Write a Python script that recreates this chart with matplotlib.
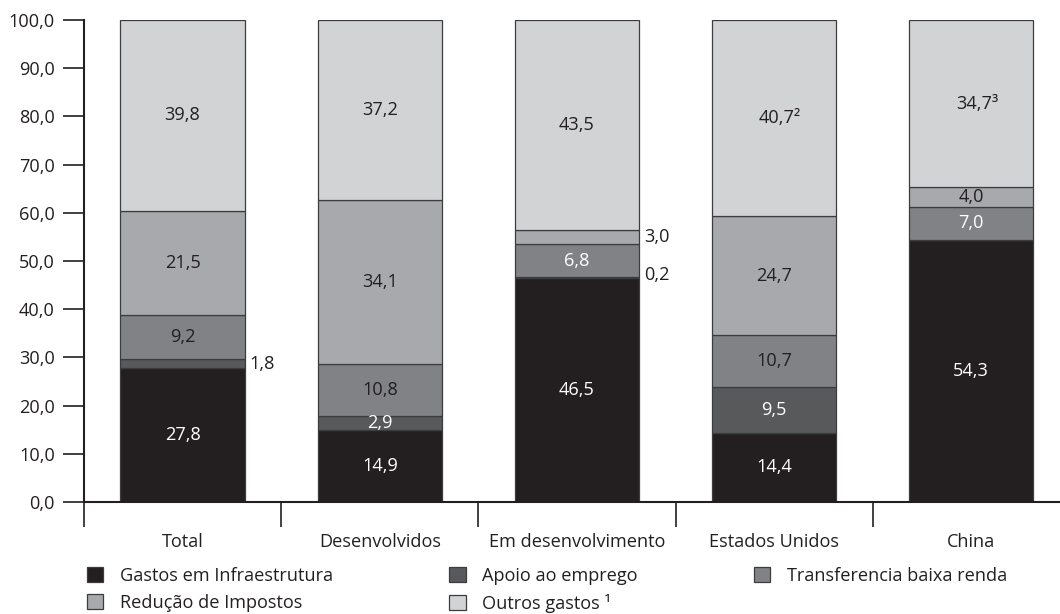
import numpy as np
import matplotlib
matplotlib.use("Agg")
import matplotlib.pyplot as plt
from matplotlib.ticker import FuncFormatter, FixedLocator

plt.rcParams['font.family'] = ['Open Sans', 'DejaVu Sans']

categories = ["Total", "Desenvolvidos", "Em desenvolvimento", "Estados Unidos", "China"]
series_names = ["Gastos em Infraestrutura", "Apoio ao emprego", "Transferencia baixa renda",
                "Redução de Impostos", "Outros gastos ¹"]
infraestrutura = [27.8, 14.9, 46.5, 14.4, 54.3]
apoio_emprego = [1.8, 2.9, 0.2, 9.5, 0.0]
transferencia = [9.2, 10.8, 6.8, 10.7, 7.0]
reducao_impostos = [21.5, 34.1, 3.0, 24.7, 4.0]
outros_gastos = [39.8, 37.2, 43.5, 40.7, 34.7]

# labels as printed (superscript notes on the "outros" figures)
outros_labels = ["39,8", "37,2", "43,5", "40,7²", "34,7³"]
# which small segments carry their label outside the bar (right side)
outside = {(1, 0), (1, 2), (3, 2)}

colors = ["#231f20", "#58595b", "#808285", "#a7a9ac", "#d1d3d4"]
label_colors = [
    ["white"] * 5,
    ["white"] * 5,
    ["#231f20", "#231f20", "white", "#231f20", "white"],
    ["#231f20"] * 5,
    ["#231f20"] * 5,
]

series = [infraestrutura, apoio_emprego, transferencia, reducao_impostos, outros_gastos]
FS = 13.1


def fmt(v):
    return f"{v:.1f}".replace(".", ",")


fig = plt.figure(figsize=(10.6, 6.14), dpi=100)
ax = fig.add_axes([84 / 1060, 112 / 614, (1060 - 84) / 1060, 482 / 614])

x = np.arange(len(categories))
width = 0.63
bottom = np.zeros(len(categories))
handles = []
for i, vals in enumerate(series):
    vals = np.array(vals)
    b = ax.bar(x, vals, width, bottom=bottom, color=colors[i], edgecolor="#3c3c3e",
               linewidth=0.9, label=series_names[i])
    handles.append(b)
    for j, v in enumerate(vals):
        if v <= 0:
            continue
        text = outros_labels[j] if i == 4 else fmt(v)
        ymid = bottom[j] + v / 2
        if (i, j) in outside:
            yy = ymid + (0.5 if i == 1 and j == 2 else 0)
            ax.text(x[j] + width / 2 + 0.025, yy, text, ha="left", va="center",
                    fontsize=FS, color="#231f20")
        else:
            dx = 0.03 if text.endswith(("²", "³")) else 0
            ax.text(x[j] + dx, ymid, text, ha="center", va="center",
                    fontsize=FS, color=label_colors[i][j])
    bottom = bottom + vals

ax.set_ylim(0, 100)
ax.set_xlim(-0.5, 4.45)
ax.set_yticks(np.arange(0, 101, 10))
ax.yaxis.set_major_formatter(FuncFormatter(lambda v, p: fmt(v)))
ax.tick_params(axis="y", direction="out", length=15, width=1.2, labelsize=FS,
               pad=6, colors="#231f20")

ax.set_xticks(x)
ax.set_xticklabels(categories)
ax.tick_params(axis="x", which="major", length=0, pad=22, labelsize=FS, colors="#231f20")
ax.xaxis.set_minor_locator(FixedLocator(np.arange(-0.5, 4.0, 1.0)))
ax.tick_params(axis="x", which="minor", direction="out", length=18, width=1.2, color="#231f20")

for s in ["top", "right"]:
    ax.spines[s].set_visible(False)
ax.spines["left"].set_linewidth(1.5)
ax.spines["bottom"].set_linewidth(1.5)
ax.spines["left"].set_color("#231f20")
ax.spines["bottom"].set_color("#231f20")

order = [0, 3, 1, 4, 2]
leg = ax.legend([handles[k] for k in order], [series_names[k] for k in order],
                ncol=3, loc="upper left", bbox_to_anchor=(0.003, -0.135),
                frameon=False, fontsize=FS, handlelength=0.9, handleheight=0.9,
                handletextpad=0.9, columnspacing=6.4, labelspacing=0.5,
                borderaxespad=0, borderpad=0)
for t in leg.get_texts():
    t.set_color("#231f20")

fig.savefig("out.png", dpi=100)
